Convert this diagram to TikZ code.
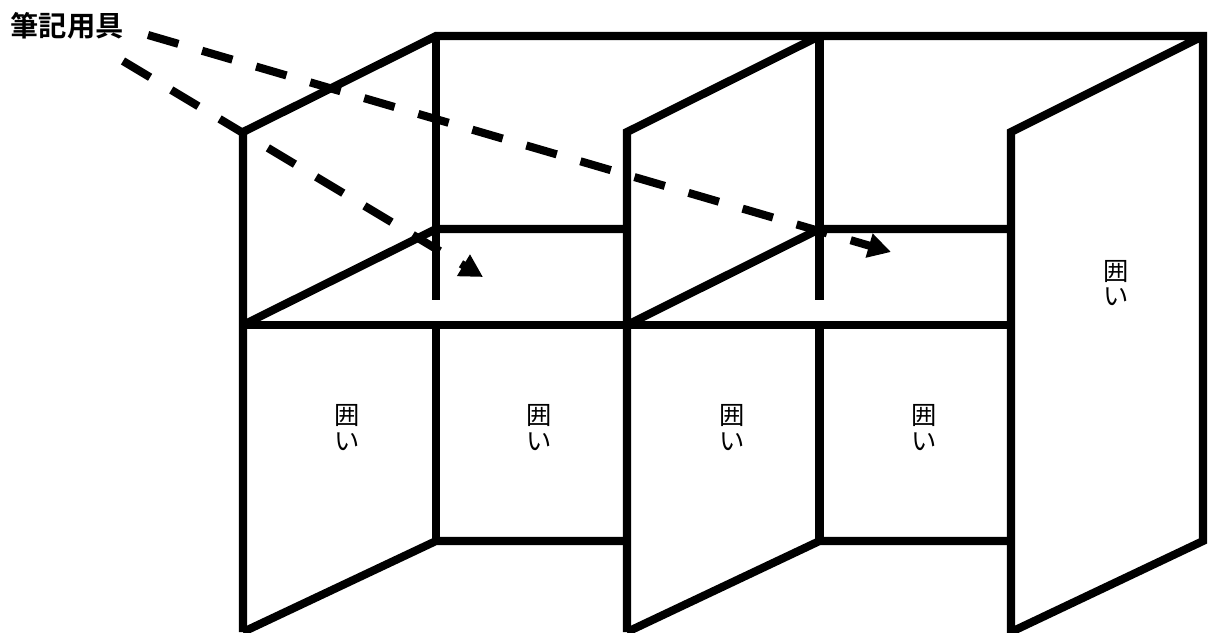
\documentclass[tikz,border=0pt]{standalone}
\usepackage{fontspec}
\usetikzlibrary{arrows.meta}
\newfontfamily\cjk{Noto Sans CJK JP}[BoldFont={Noto Sans CJK JP Bold}]
\tikzset{
  wall/.style={line width=4.6pt, line cap=butt, line join=miter},
  pointer/.style={line width=4.6pt, dash pattern=on 18pt off 14.05pt, -{Triangle[length=13pt,width=13.5pt]}},
  kakoi/.style={font=\cjk\fontsize{14.4}{14.6}\selectfont, align=center, inner sep=0pt},
}

\begin{document}
\begin{tikzpicture}[x=0.02cm,y=-0.02cm]
\useasboundingbox (0,0) rectangle (1209,632);
\draw[wall](243,632)--(243,132)--(436,36)--(1203,36)--(1203,541)--(1011,632)--(1011,132)--(1203,36);
\draw[wall](627,632)--(627,132)--(819.5,36);
\draw[wall](436,36)--(436,300);
\draw[wall](819.5,36)--(819.5,300);
\draw[wall](243,325)--(1011,325);
\draw[wall](243,325)--(436,229)--(627,229);
\draw[wall](627,325)--(819.5,229)--(1011,229);
\draw[wall](436,325)--(436,541);
\draw[wall](819.5,325)--(819.5,541);
\draw[wall](243,632)--(436,541)--(627,541);
\draw[wall](627,632)--(819.5,541)--(1011,541);
\node[kakoi](kakoi1) at (347,427.5){囲\\い};
\node[kakoi](kakoi2) at (539,427.5){囲\\い};
\node[kakoi](kakoi3) at (732,427.5){囲\\い};
\node[kakoi](kakoi4) at (924,427.5){囲\\い};
\node[kakoi](kakoi5) at (1116,283){囲\\い};
\node[font=\cjk\bfseries\fontsize{16.1}{18}\selectfont, inner sep=0pt](fude) at (67,25.5){筆記用具};
\coordinate(shelfL) at (483,277);
\coordinate(shelfR) at (891,252);
\coordinate(fudeA) at (123,61);
\coordinate(fudeB) at (148,35);
\draw[pointer](fudeA)--(shelfL);
\draw[pointer](fudeB)--(shelfR);
\end{tikzpicture}
\end{document}
